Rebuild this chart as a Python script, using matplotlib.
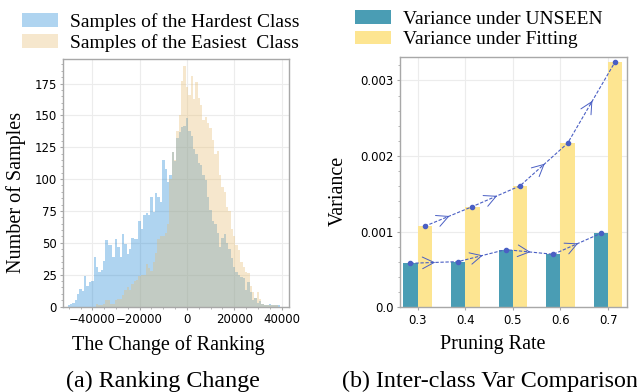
import numpy as np
import matplotlib
matplotlib.use("Agg")
import matplotlib.pyplot as plt
from matplotlib.ticker import AutoMinorLocator

# ---------------- data ----------------
# histogram: 90 bins of width 1000, from -50500 to 39500
bin_edges = np.arange(-50500, 39501, 1000)
hardest_counts = [1, 2, 3, 5, 10, 14, 12, 24, 16, 19,
                  20, 39, 31, 27, 29, 36, 52, 48, 48, 39,
                  53, 47, 39, 57, 49, 41, 45, 54, 53, 53,
                  67, 61, 72, 73, 72, 86, 74, 89, 86, 82,
                  115, 108, 98, 103, 121, 114, 132, 137, 141, 142,
                  148, 138, 134, 124, 120, 113, 111, 103, 99, 86,
                  76, 67, 65, 58, 47, 54, 57, 50, 45, 38,
                  31, 27, 25, 23, 22, 13, 19, 11, 5, 7,
                  3, 4, 2, 1, 1, 2, 1, 1, 1, 1]
easiest_counts = [0, 0, 0, 0, 0, 0, 0, 0, 0, 0,
                  0, 0, 2, 1, 1, 2, 5, 5, 2, 2,
                  5, 6, 6, 9, 13, 15, 13, 18, 20, 21,
                  24, 25, 25, 33, 30, 28, 35, 42, 53, 55,
                  55, 58, 65, 100, 121, 115, 138, 150, 177, 189,
                  172, 166, 181, 163, 176, 164, 158, 146, 149, 144,
                  140, 131, 120, 122, 103, 94, 90, 78, 75, 61,
                  55, 48, 44, 35, 31, 27, 26, 16, 11, 7,
                  11, 6, 2, 1, 1, 1, 1, 1, 1, 0]
hist_labels = ["Samples of the Hardest Class", "Samples of the Easiest  Class"]

# bar chart
pruning_rates = ["0.3", "0.4", "0.5", "0.6", "0.7"]
var_unseen = [0.000582, 0.000604, 0.000763, 0.000701, 0.000979]
var_fitting = [0.001072, 0.001332, 0.001606, 0.00217, 0.00325]
bar_labels = ["Variance under UNSEEN", "Variance under Fitting"]

# ---------------- style ----------------
serif = "Liberation Serif"
grid_c = "#ececec"
spine_c = "#a8a8a8"

fig = plt.figure(figsize=(6.37, 3.92), dpi=100)

def style_axes(ax):
    for s in ax.spines.values():
        s.set_color(spine_c)
        s.set_linewidth(1.0)
    ax.grid(True, color=grid_c, lw=0.8)
    ax.set_axisbelow(True)
    ax.yaxis.set_minor_locator(AutoMinorLocator(5))
    ax.tick_params(which="major", length=2.5, color=spine_c, labelsize=8.5, pad=2)
    ax.tick_params(which="minor", length=1.5, color=spine_c)
    ax.tick_params(axis="x", which="minor", bottom=False)

# ---------------- (a) histogram ----------------
ax1 = fig.add_axes([0.0994, 0.2181, 0.3548, 0.6306])
centers = (bin_edges[:-1] + bin_edges[1:]) / 2
h1 = ax1.hist(centers, bins=bin_edges, weights=hardest_counts,
              color="#1a84d4", alpha=0.35, label=hist_labels[0])
h2 = ax1.hist(centers, bins=bin_edges, weights=easiest_counts,
              color="#e8bd70", alpha=0.35, label=hist_labels[1])
ax1.set_xlim(-52300, 43300)
ax1.set_ylim(0, 194)
ax1.set_xticks([-40000, -20000, 0, 20000, 40000])
ax1.set_yticks([0, 25, 50, 75, 100, 125, 150, 175])
style_axes(ax1)
ax1.xaxis.set_minor_locator(AutoMinorLocator(4))
ax1.tick_params(axis="x", which="minor", bottom=True)
ax1.set_xlabel("The Change of Ranking", family=serif, fontsize=14.5)
ax1.set_ylabel("Number of Samples", family=serif, fontsize=14.5)
ax1.xaxis.set_label_coords(0.463, -0.115)
ax1.yaxis.set_label_coords(-0.165, 0.463)

fig.legend(handles=[h1[2][0], h2[2][0]], labels=hist_labels,
           loc="upper left", bbox_to_anchor=(22 / 637, 1 - 13 / 392),
           frameon=False, borderpad=0, borderaxespad=0, labelspacing=0.15,
           handlelength=1.85, handleheight=0.7, handletextpad=0.6,
           prop={"family": serif, "size": 14})

# ---------------- (b) bars ----------------
ax2 = fig.add_axes([0.6279, 0.2161, 0.3559, 0.6393])
x = np.arange(len(pruning_rates))
w = 0.3
b1 = ax2.bar(x - w / 2, var_unseen, w, color="#4a9db4", label=bar_labels[0])
b2 = ax2.bar(x + w / 2, var_fitting, w, color="#fde591", label=bar_labels[1])
ax2.set_xticks(x)
ax2.set_xticklabels(pruning_rates)
ax2.set_xlim(-0.37, 4.39)
ax2.set_ylim(0, 0.003315)
ax2.set_yticks([0.0, 0.001, 0.002, 0.003])
ax2.set_yticklabels(["0.0", "0.001", "0.002", "0.003"])
style_axes(ax2)
ax2.set_xlabel("Pruning Rate", family=serif, fontsize=14.5)
ax2.set_ylabel("Variance", family=serif, fontsize=14.5)
ax2.xaxis.set_label_coords(0.41, -0.11)
ax2.yaxis.set_label_coords(-0.23, 0.466)

line_c = "#4a5fc4"
for xs, ys in [(x - w / 2, var_unseen), (x + w / 2, var_fitting)]:
    ax2.plot(xs, ys, ls=(0, (3, 1.5)), lw=0.8, color=line_c,
             marker="o", ms=3, zorder=3)
    for i in range(len(xs) - 1):
        xm = (xs[i] + xs[i + 1]) / 2
        ym = (ys[i] + ys[i + 1]) / 2
        dx = (xs[i + 1] - xs[i]) * 0.02
        dy = (ys[i + 1] - ys[i]) * 0.02
        ax2.annotate("", xy=(xm + dx, ym + dy), xytext=(xm - dx, ym - dy),
                     arrowprops=dict(arrowstyle="->", color=line_c, lw=0.7,
                                     mutation_scale=21, shrinkA=0, shrinkB=0),
                     zorder=4)

fig.legend(handles=[b1, b2], labels=bar_labels,
           loc="upper left", bbox_to_anchor=(355 / 637, 1 - 10 / 392),
           frameon=False, borderpad=0, borderaxespad=0, labelspacing=0.15,
           handlelength=1.85, handleheight=0.7, handletextpad=0.6,
           prop={"family": serif, "size": 14})

# ---------------- captions ----------------
fig.text(163 / 637, 1 - 381 / 392, "(a) Ranking Change", family=serif,
         fontsize=17.3, ha="center", va="center")
fig.text(342 / 637, 1 - 381 / 392, "(b) Inter-class Var Comparison", family=serif,
         fontsize=17.3, ha="left", va="center")

fig.savefig("out.png", dpi=100)
